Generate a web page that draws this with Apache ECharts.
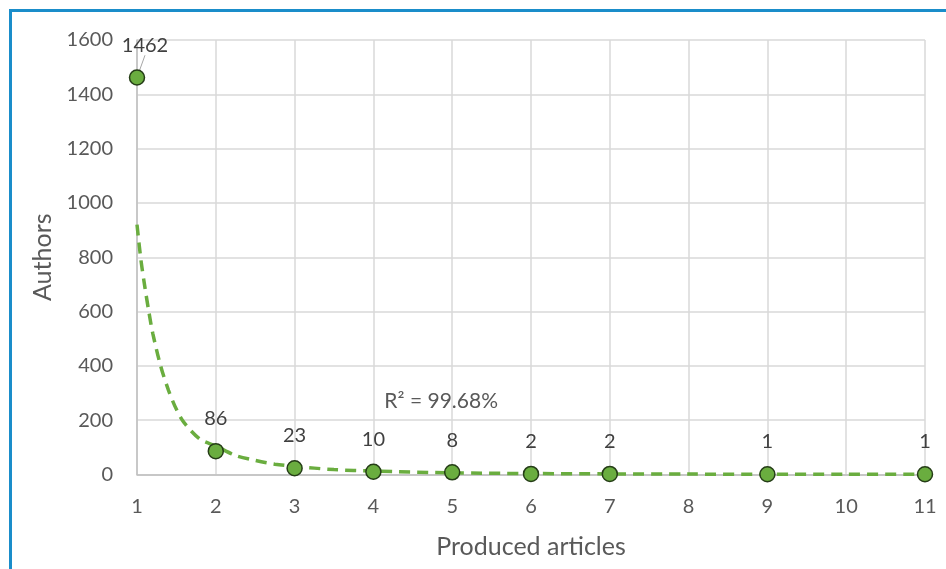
<!DOCTYPE html>
<html>
<head>
<meta charset="utf-8">
<script src="https://cdn.jsdelivr.net/npm/echarts@6/dist/echarts.min.js"></script>
<style>
html,body{margin:0;padding:0;background:#fff;}
#chart{position:absolute;left:0;top:0;width:946px;height:569px;}
#frame{position:absolute;left:9px;top:9px;width:2000px;height:2000px;border-left:3px solid #1a8dca;border-top:3px solid #1a8dca;pointer-events:none;}
</style>
</head>
<body>
<div id="chart"></div>
<div id="frame"></div>
<script>
// Data
const articles = [1, 2, 3, 4, 5, 6, 7, 9, 11];
const authors = [1462, 86, 23, 10, 8, 2, 2, 1, 1];
// Trendline samples
const trendX = [1, 1.05, 1.1, 1.15, 1.2, 1.3, 1.4, 1.5, 1.6, 1.8, 2, 2.25, 2.5, 2.75, 3, 3.5, 4, 5, 6, 7, 8, 9, 10, 11];
const trendY = [920, 790, 690, 600, 520, 400, 310, 240, 190, 130, 105, 70, 52, 38, 30, 18, 13, 6, 3.5, 2.2, 1.5, 1, 0.7, 0.6];
const rSquaredText = 'R² = 99.68%';
const xAxisTitle = 'Produced articles';
const yAxisTitle = 'Authors';

const font = 'Lato';
const chart = echarts.init(document.getElementById('chart'), null, {renderer: 'canvas'});
chart.setOption({
  animation: false,
  backgroundColor: 'transparent',
  grid: {left: 137, right: 21, top: 40, bottom: 94.5, containLabel: false},
  xAxis: {
    type: 'value', min: 1, max: 11, interval: 1,
    name: xAxisTitle, nameLocation: 'middle', nameGap: 60,
    nameTextStyle: {fontFamily: font, fontSize: 25, color: '#595959'},
    axisLine: {show: true, onZero: false, lineStyle: {color: '#bfbfbf', width: 1.5}},
    axisTick: {show: false},
    axisLabel: {fontFamily: font, fontSize: 20, color: '#595959', margin: 22, formatter: v => String(v)},
    splitLine: {show: true, lineStyle: {color: '#d9d9d9', width: 1.5}}
  },
  yAxis: {
    type: 'value', min: 0, max: 1600, interval: 200,
    name: yAxisTitle, nameLocation: 'middle', nameGap: 82,
    nameTextStyle: {fontFamily: font, fontSize: 25, color: '#595959'},
    axisLine: {show: true, lineStyle: {color: '#bfbfbf', width: 1.5}},
    axisTick: {show: false},
    axisLabel: {fontFamily: font, fontSize: 20, color: '#595959', margin: 24, formatter: v => String(v)},
    splitLine: {show: true, lineStyle: {color: '#d9d9d9', width: 1.5}}
  },
  series: [
    {
      type: 'line',
      data: trendX.map((x, i) => [x, trendY[i]]),
      smooth: 0.3,
      showSymbol: false,
      silent: true,
      z: 2,
      lineStyle: {color: '#6aad3f', width: 3.5, type: [11, 7]},
      markPoint: {
        symbol: 'circle', symbolSize: 0,
        data: [{coord: [4.86, 268], value: rSquaredText}],
        label: {show: true, formatter: rSquaredText, fontFamily: font, fontSize: 21, color: '#595959', position: 'inside'}
      }
    },
    {
      type: 'scatter',
      data: articles.map((x, i) => i === 0
        ? {value: [x, authors[i]], labelLine: {show: true, lineStyle: {color: '#a6a6a6', width: 1}}}
        : {value: [x, authors[i]], labelLine: {show: false}}),
      symbol: 'circle',
      symbolSize: 15,
      z: 3,
      itemStyle: {color: '#6aad3f', borderColor: '#253d17', borderWidth: 1.5, opacity: 1},
      label: {
        show: true, position: 'top', distance: 14,
        formatter: p => String(p.value[1]),
        fontFamily: font, fontSize: 20, color: '#404040'
      },
      labelLayout: function (params) {
        if (params.dataIndex === 0) return {dx: 8, dy: 0};
        return {};
      },
      labelLine: {show: false}
    }
  ]
});
</script>
</body>
</html>
